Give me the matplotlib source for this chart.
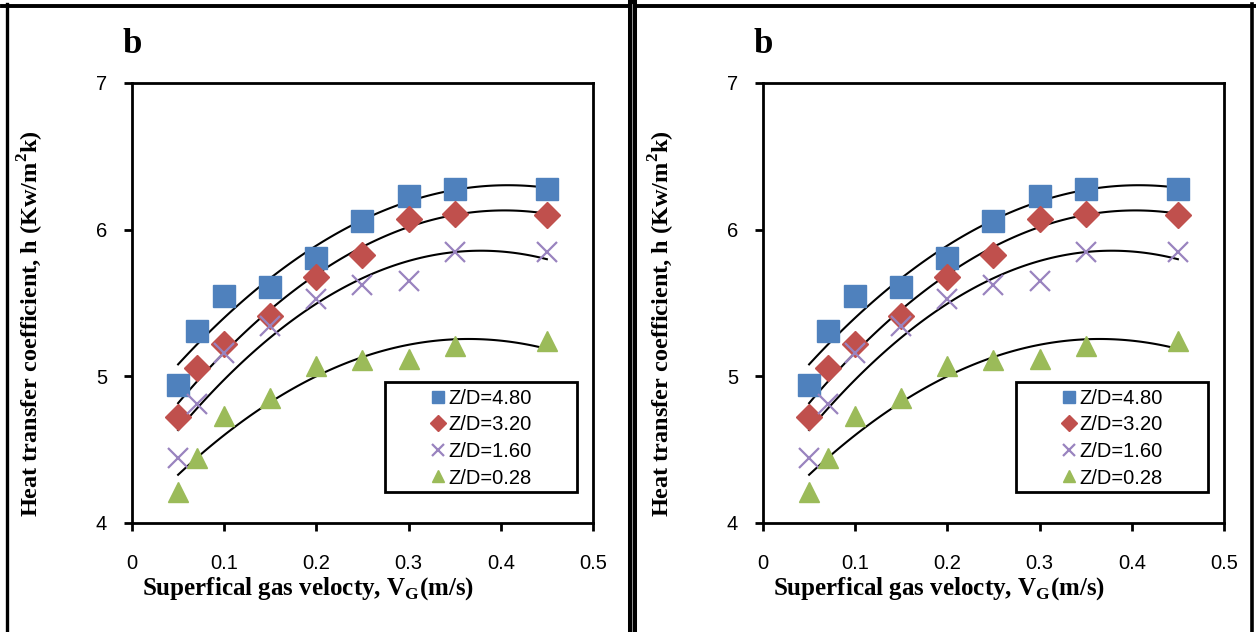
import matplotlib
matplotlib.use("Agg")
import matplotlib.pyplot as plt
from matplotlib.lines import Line2D
from matplotlib.patches import Rectangle
import numpy as np

vg = [0.05, 0.07, 0.10, 0.15, 0.20, 0.25, 0.30, 0.35, 0.45]
h_480 = [4.94, 5.31, 5.55, 5.61, 5.81, 6.06, 6.23, 6.28, 6.28]
h_320 = [4.72, 5.06, 5.22, 5.41, 5.68, 5.83, 6.07, 6.11, 6.10]
h_160 = [4.44, 4.81, 5.16, 5.34, 5.53, 5.62, 5.65, 5.85, 5.85]
h_028 = [4.21, 4.44, 4.73, 4.85, 5.07, 5.11, 5.12, 5.21, 5.24]
labels = ["Z/D=4.80", "Z/D=3.20", "Z/D=1.60", "Z/D=0.28"]

series = [h_480, h_320, h_160, h_028]
colors = ["#4F81BD", "#C0504D", "#9983BF", "#9BBB59"]
markers = ["s", "D", "x", "^"]
msizes = [15.5, 13, 15, 15]

serif = "Liberation Serif"
sans = "Liberation Sans"

fig = plt.figure(figsize=(12.56, 6.32), dpi=100)


def panel(left):
    ax = fig.add_axes([left, 0.1725, 0.367, 0.6962])
    x = np.array(vg)
    for y, c, m, ms, lab in zip(series, colors, markers, msizes, labels):
        if m == "x":
            ax.plot(x, y, ls="none", marker=m, ms=ms, mec=c, mew=1.6, label=lab)
        else:
            ax.plot(x, y, ls="none", marker=m, ms=ms, mfc=c, mec=c, label=lab)
    for y in series:
        p = np.polyfit(x, y, 2)
        xx = np.linspace(0.05, 0.45, 100)
        ax.plot(xx, np.polyval(p, xx), color="black", lw=1.5, zorder=1)
    ax.set_xlim(0, 0.5)
    ax.set_ylim(4, 7)
    ax.set_xticks([0, 0.1, 0.2, 0.3, 0.4, 0.5])
    ax.set_xticklabels(["0", "0.1", "0.2", "0.3", "0.4", "0.5"])
    ax.set_yticks([4, 5, 6, 7])
    for s in ax.spines.values():
        s.set_linewidth(2)
    ax.tick_params(direction="out", length=6, width=2, labelsize=14.5)
    ax.tick_params(axis="x", pad=16)
    ax.tick_params(axis="y", pad=12)
    for t in ax.get_xticklabels() + ax.get_yticklabels():
        t.set_fontfamily(sans)
    ax.set_xlabel("Superfical gas velocty, V$_\\mathregular{G}$(m/s)",
                  fontfamily=serif, fontweight="bold", fontsize=18)
    ax.xaxis.set_label_coords(0.382, -0.118)
    ax.set_ylabel("Heat transfer coefficient, h (Kw/m$^\\mathregular{2}$k)",
                  fontfamily=serif, fontweight="bold", fontsize=17.5)
    ax.yaxis.set_label_coords(-0.187, 0.452)
    # legend box is wider than its content, so the frame is drawn apart
    ax.add_patch(Rectangle((0.549, 0.0705), 0.416, 0.25, transform=ax.transAxes,
                           fill=True, fc="white", ec="black", lw=2, zorder=4))
    leg = ax.legend(loc="center", bbox_to_anchor=(0.757, 0.193),
                    prop={"family": sans, "size": 14.5}, frameon=False,
                    handlelength=0.8, handletextpad=0.1,
                    borderpad=0.2, labelspacing=0.38, markerscale=0.6)
    leg.set_zorder(5)
    ax.text(-0.02, 1.05, "b", transform=ax.transAxes, fontfamily=serif,
            fontweight="bold", fontsize=25, va="bottom", ha="left")
    return ax


panel(0.1051)
panel(0.6075)

# outer frames around both panels
W, H = 1256, 632
def fline(x0, y0, x1, y1, lw, c="black"):
    fig.add_artist(Line2D([x0 / W, x1 / W], [1 - y0 / H, 1 - y1 / H],
                          transform=fig.transFigure, color=c, lw=lw))

fline(2, 5.5, 1256, 5.5, 2.8)
fline(6.5, 4, 6.5, 632, 2.4)
fline(631.5, 4, 631.5, 632, 6.5)
fline(631.5, 4, 631.5, 632, 0.6, c="#aaaaaa")
fline(1252, 4, 1252, 632, 2.6)

fig.savefig("out.png", dpi=100)
